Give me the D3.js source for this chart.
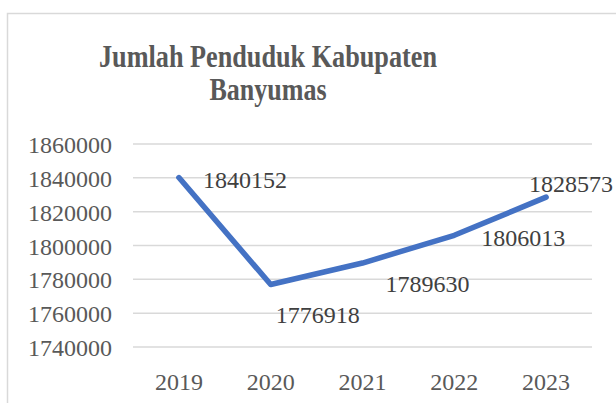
<!DOCTYPE html>
<html>
<head>
<meta charset="utf-8">
<script src="https://cdn.jsdelivr.net/npm/d3@7"></script>
<style>
  body { margin: 0; background: #fff; }
</style>
</head>
<body>
<svg id="chart" width="616" height="403"></svg>
<script>
// data
const years = ["2019", "2020", "2021", "2022", "2023"];
const population = [1840152, 1776918, 1789630, 1806013, 1828573];
const yTicks = [1740000, 1760000, 1780000, 1800000, 1820000, 1840000, 1860000];
const titleLines = ["Jumlah Penduduk Kabupaten", "Banyumas"];

const FONT = "Liberation Serif";

// label offsets relative to the point (excel style placement)
const labelOffset = [
    { dx: 66, dy: 10 },
    { dx: 47, dy: 38 },
    { dx: 65, dy: 29 },
    { dx: 69, dy: 11 },
    { dx: 25, dy: -5 }
];

const svg = d3.select("#chart");

// chart border
svg.append("rect")
    .attr("x", 7.5)
    .attr("y", 13.5)
    .attr("width", 800)
    .attr("height", 600)
    .attr("fill", "none")
    .attr("stroke", "#d9d9d9")
    .attr("stroke-width", 1.5);

// title
svg.selectAll(".title")
    .data(titleLines)
    .enter()
    .append("text")
    .attr("class", "title")
    .attr("x", 268)
    .attr("y", (d, i) => 67 + i * 33)
    .attr("text-anchor", "middle")
    .attr("font-size", 32)
    .attr("font-weight", "bold")
    .attr("fill", "#595959")
    .attr("textLength", (d, i) => i === 0 ? 338 : 117)
    .attr("lengthAdjust", "spacingAndGlyphs")
    .style("font-family", FONT)
    .text(d => d);

const x = d3.scaleBand()
    .domain(years)
    .range([133, 592]);

const y = d3.scaleLinear()
    .domain([1740000, 1860000])
    .range([347, 144]);

// gridlines
svg.append("g")
    .selectAll("line")
    .data(yTicks)
    .enter()
    .append("line")
    .attr("x1", x.range()[0])
    .attr("x2", x.range()[1])
    .attr("y1", d => y(d))
    .attr("y2", d => y(d))
    .attr("stroke", "#d9d9d9")
    .attr("stroke-width", 1.5);

// y labels
svg.append("g")
    .selectAll("text")
    .data(yTicks)
    .enter()
    .append("text")
    .attr("x", 112)
    .attr("y", d => y(d) + 9)
    .attr("text-anchor", "end")
    .attr("font-size", 24)
    .attr("fill", "#595959")
    .style("font-family", FONT)
    .text(d => d);

// x labels
svg.append("g")
    .selectAll("text")
    .data(years)
    .enter()
    .append("text")
    .attr("x", d => x(d) + x.bandwidth() / 2)
    .attr("y", 390)
    .attr("text-anchor", "middle")
    .attr("font-size", 24)
    .attr("fill", "#595959")
    .style("font-family", FONT)
    .text(d => d);

// line
const pts = years.map((yr, i) => ({ year: yr, value: population[i] }));
const line = d3.line()
    .x(d => x(d.year) + x.bandwidth() / 2)
    .y(d => y(d.value));

svg.append("path")
    .datum(pts)
    .attr("fill", "none")
    .attr("stroke", "#4472c4")
    .attr("stroke-width", 5.5)
    .attr("stroke-linecap", "round")
    .attr("stroke-linejoin", "round")
    .attr("d", line);

// data labels
svg.append("g")
    .selectAll("text")
    .data(pts)
    .enter()
    .append("text")
    .attr("x", (d, i) => x(d.year) + x.bandwidth() / 2 + labelOffset[i].dx)
    .attr("y", (d, i) => y(d.value) + labelOffset[i].dy)
    .attr("text-anchor", "middle")
    .attr("font-size", 24)
    .attr("fill", "#404040")
    .style("font-family", FONT)
    .text(d => d.value);
</script>
</body>
</html>
